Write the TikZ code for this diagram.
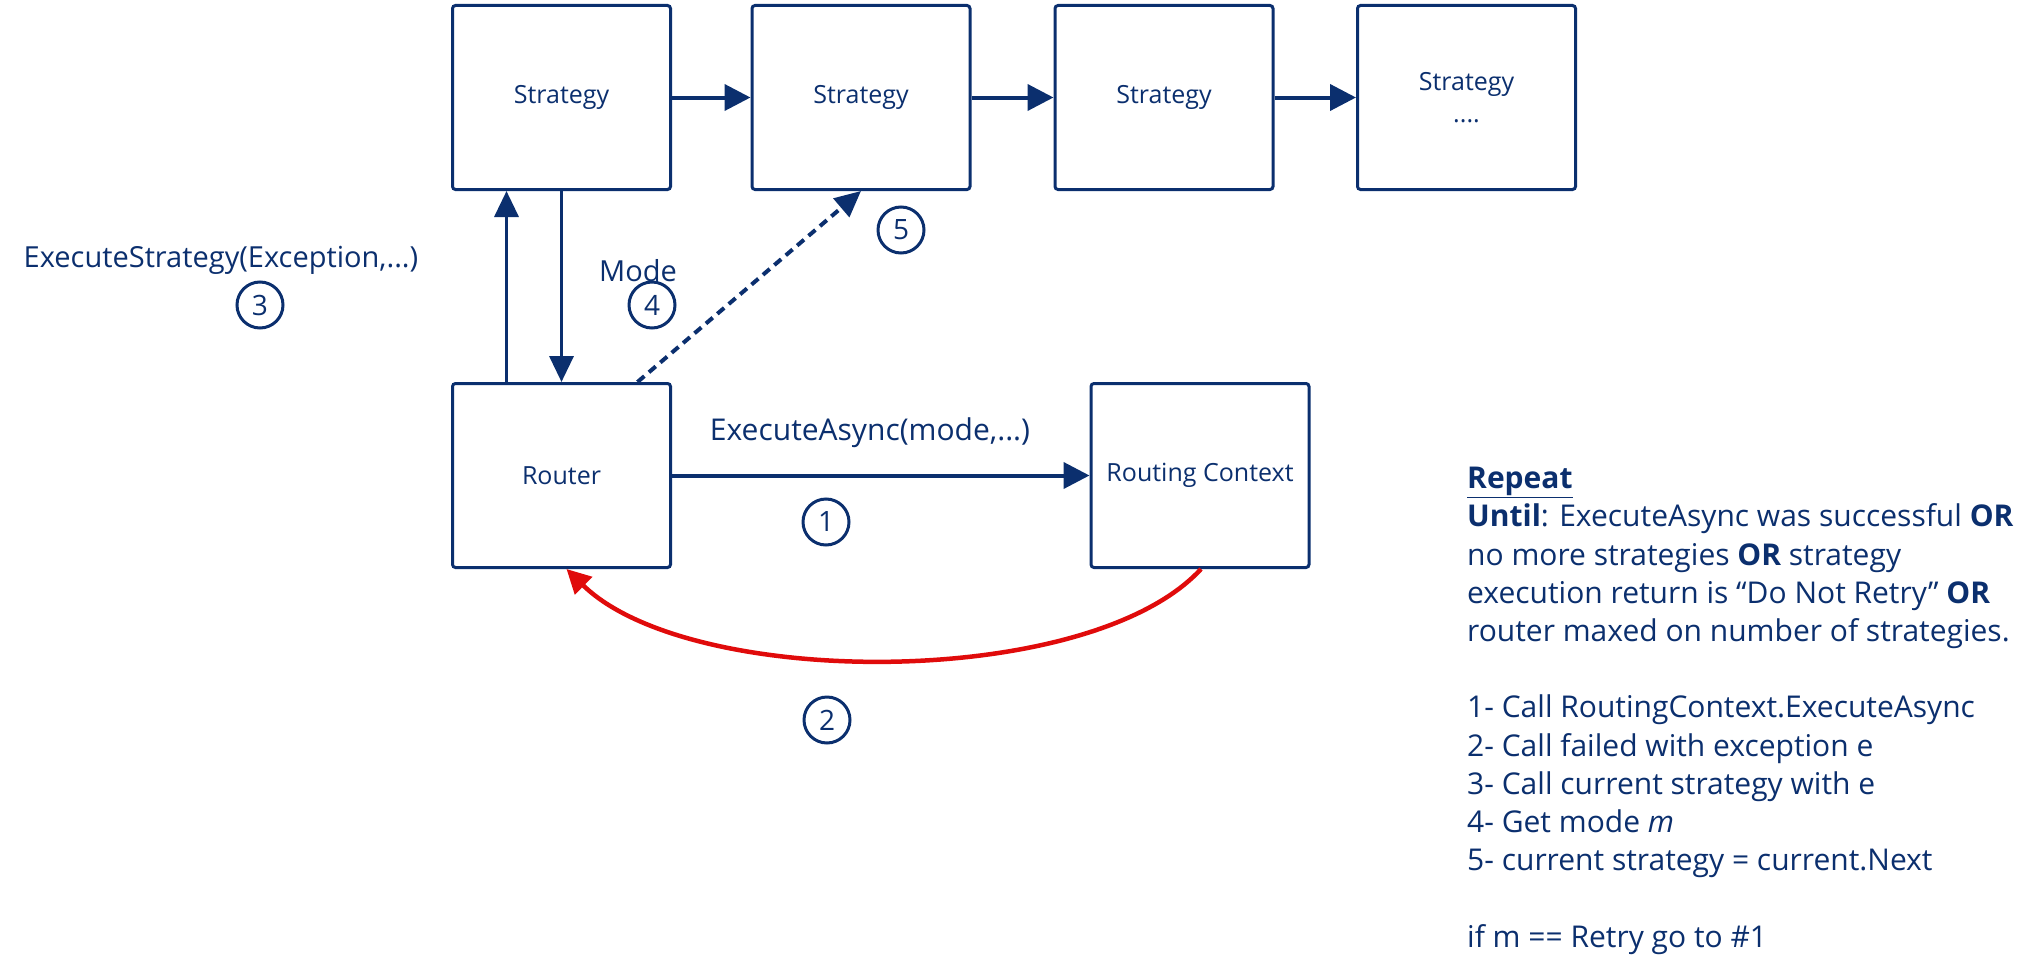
\documentclass[tikz,border=0pt]{standalone}
\usepackage{fontspec}
\setmainfont{Open Sans}
\usetikzlibrary{arrows.meta}
\definecolor{navy}{HTML}{0B2F6E}
\definecolor{redc}{HTML}{E00B0B}
\begin{document}
\begin{tikzpicture}[x=1pt,y=-1pt,
  box/.style={draw=navy, line width=3pt, rounded corners=3pt, minimum width=218pt, minimum height=184pt, inner sep=0pt, font=\fontsize{25}{32}\selectfont, text=navy, align=center},
  num/.style={circle, draw=navy, line width=3pt, minimum size=46pt, inner sep=0pt, font=\fontsize{28}{28}\selectfont, text=navy},
  lbl/.style={text=navy, font=\fontsize{29}{35}\selectfont, inner sep=0pt},
  arr/.style={draw=navy, line width=4pt, -{Triangle[length=26pt,width=26pt]}},
  thinarr/.style={draw=navy, line width=3.5pt, -{Triangle[length=26pt,width=24pt]}}
]
\useasboundingbox (0,0) rectangle (2037,974);

\node[box] (s1) at (561.5,97.5) {Strategy};
\node[box] (s2) at (861,97.5) {Strategy};
\node[box] (s3) at (1164,97.5) {Strategy};
\node[box] (s4) at (1466.5,97.5) {Strategy\\....};
\node[box] (r) at (561.5,475.5) {Router};
\node[box] (rc) at (1200,475.5) {Routing Context};

\draw[arr] (s1.east) -- (s2.west);
\draw[arr] (s2.east) -- (s3.west);
\draw[arr] (s3.east) -- (s4.west);

\draw[thinarr] ([xshift=-55pt]r.north) -- ([xshift=-55pt]s1.south);
\draw[thinarr] (s1.south) -- (r.north);
\draw[thinarr, line width=4pt, dash pattern=on 9pt off 6pt] ([xshift=76pt]r.north) -- (s2.south);

\draw[arr] (r.east) -- (rc.west);
\draw[redc, line width=4.5pt, -{Triangle[length=24pt,width=24pt]}] ([xshift=1pt]rc.south) .. controls (1090,690) and (690,690) .. ([xshift=5pt]r.south);

\node[lbl] (lex) at (221,260) {ExecuteStrategy(Exception,...)};
\node[lbl] (lmode) at (638,271) {Mode};
\node[lbl, font=\fontsize{30}{35}\selectfont] (lea) at (870,433) {ExecuteAsync(mode,...)};

\node[num] (n1) at (826,522) {1};
\node[num] (n2) at (827,720) {2};
\node[num] (n3) at (260,305) {3};
\node[num] (n4) at (652,305) {4};
\node[num] (n5) at (901,230) {5};

\node[lbl, anchor=north west, align=left, font=\fontsize{30}{38.2}\selectfont] (notes) at (1467,467) {%
\underline{\textbf{Repeat}}\\
\textbf{Until}: ExecuteAsync was successful \textbf{OR}\\
no more strategies \textbf{OR} strategy\\
execution return is “Do Not Retry" \textbf{OR}\\
router maxed on number of strategies.\\[38.2pt]
1- Call RoutingContext.ExecuteAsync\\
2- Call failed with exception e\\
3- Call current strategy with e\\
4- Get mode \textit{m}\\
5- current strategy = current.Next\\[38.2pt]
if m == Retry go to \#1};
\end{tikzpicture}
\end{document}
